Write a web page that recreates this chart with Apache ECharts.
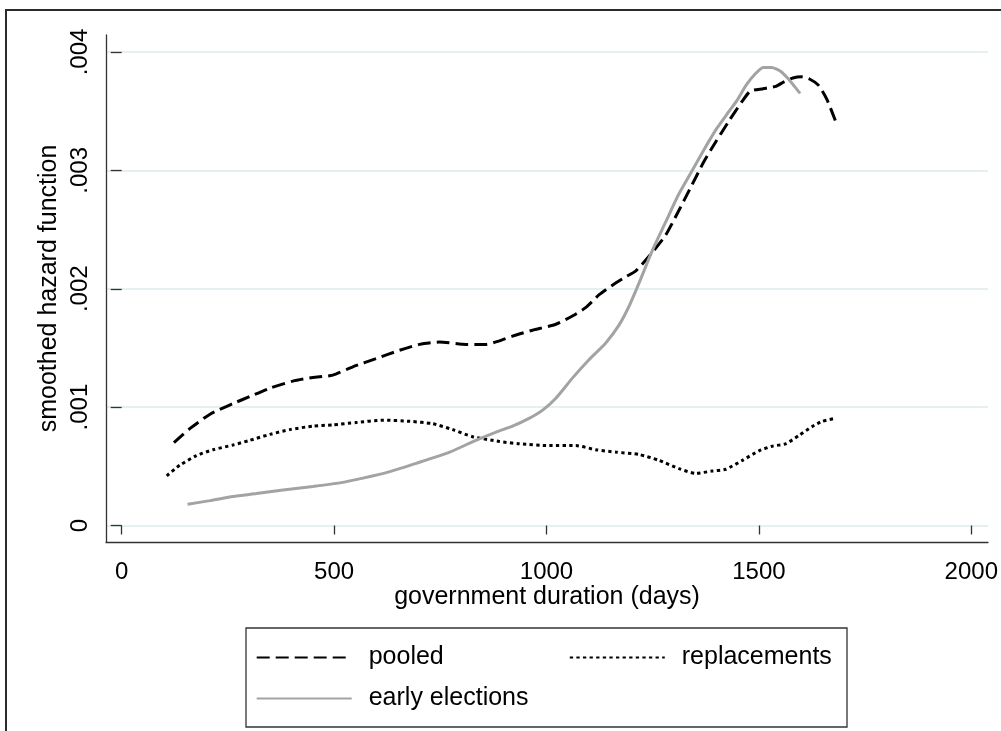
<!DOCTYPE html>
<html><head><meta charset="utf-8">
<script src="https://cdn.jsdelivr.net/npm/echarts@6/dist/echarts.min.js"></script>
<style>html,body{margin:0;padding:0;background:#fff}#c{width:1001px;height:731px}</style>
</head><body><div id="c"></div>
<script>
const xTicks = [0, 500, 1000, 1500, 2000];
const yTickLabels = ['0', '.001', '.002', '.003', '.004'];
const seriesNames = ['pooled', 'replacements', 'early elections'];

const pooledDays   = [123, 161, 208, 262, 302, 349, 403, 450, 497, 544, 599, 654, 701, 748, 811, 858, 889, 920, 967, 1022, 1061, 1092, 1124, 1155, 1186, 1210, 1245, 1280, 1310, 1340, 1370, 1400, 1430, 1460, 1480, 1510, 1540, 1560, 1580, 1600, 1620, 1640, 1660, 1680];
const pooledHazard = [0.00070, 0.00082, 0.00094, 0.00103, 0.00109, 0.00116, 0.00122, 0.00125, 0.00127, 0.00134, 0.00141, 0.00148, 0.00153, 0.00155, 0.00153, 0.00153, 0.00156, 0.00160, 0.00165, 0.00170, 0.00177, 0.00184, 0.00195, 0.00203, 0.00210, 0.00215, 0.00229, 0.00245, 0.00265, 0.00286, 0.00307, 0.00325, 0.00342, 0.00358, 0.00367, 0.00369, 0.00371, 0.00375, 0.00378, 0.00379, 0.00377, 0.00372, 0.00360, 0.00342];

const replDays   = [106, 137, 176, 215, 262, 302, 349, 396, 450, 497, 552, 615, 678, 732, 779, 826, 889, 936, 1006, 1069, 1116, 1163, 1218, 1265, 1312, 1351, 1390, 1422, 1461, 1500, 1531, 1563, 1594, 1625, 1649, 1680];
const replHazard = [0.00042, 0.00051, 0.00059, 0.00064, 0.00068, 0.00072, 0.00077, 0.00081, 0.00084, 0.00085, 0.00087, 0.00089, 0.00088, 0.00086, 0.00081, 0.00075, 0.00071, 0.00069, 0.000675, 0.000675, 0.00064, 0.00062, 0.00060, 0.00055, 0.00048, 0.00044, 0.00046, 0.000475, 0.00055, 0.00063, 0.00067, 0.00069, 0.00076, 0.000835, 0.00088, 0.000905];

const earlyDays   = [155, 208, 262, 317, 380, 450, 513, 568, 631, 693, 772, 834, 889, 920, 959, 991, 1022, 1061, 1100, 1139, 1171, 1194, 1218, 1250, 1280, 1310, 1340, 1370, 1400, 1430, 1450, 1470, 1490, 1510, 1530, 1550, 1570, 1597];
const earlyHazard = [0.00018, 0.00021, 0.000245, 0.00027, 0.00030, 0.00033, 0.00036, 0.00040, 0.000455, 0.000525, 0.00062, 0.00072, 0.00080, 0.00084, 0.000905, 0.000975, 0.001075, 0.001245, 0.00140, 0.00154, 0.001695, 0.00185, 0.00205, 0.00233, 0.00256, 0.00279, 0.00298, 0.00317, 0.00335, 0.00350, 0.00360, 0.00372, 0.00381, 0.00387, 0.00387, 0.00384, 0.00377, 0.00365];

const zip = (a, b) => a.map((d, i) => [d, b[i]]);
const FONT = "'Liberation Sans', Arial, sans-serif";
const chart = echarts.init(document.getElementById('c'), null, { renderer: 'canvas' });

const legendCommon = {
  padding: 0, itemWidth: 95, itemHeight: 14,
  itemStyle: { opacity: 0, borderWidth: 0 },
  textStyle: { fontSize: 25, color: '#000', fontFamily: FONT, padding: [0, 0, 0, 12] }
};

chart.setOption({
  backgroundColor: '#ffffff',
  animation: false,
  textStyle: { fontFamily: FONT },
  grid: [
    { left: 121.7, right: 29.3, top: 52, bottom: 205.5 },
    { left: 106, right: 13, top: 52, bottom: 205.5 },
    { left: 106, right: 13, top: 35, bottom: 189 }
  ],
  xAxis: [
    {
      gridIndex: 0, type: 'value', min: xTicks[0], max: xTicks[xTicks.length - 1], interval: 500,
      offset: 16.5,
      axisLine: { show: false },
      axisTick: { show: true, length: 9, lineStyle: { color: '#333', width: 1.3 } },
      axisLabel: { fontSize: 24, color: '#000', margin: 18, fontFamily: FONT, formatter: v => String(v) },
      splitLine: { show: false }
    },
    { gridIndex: 1, type: 'value', min: 0, max: 1, show: false },
    {
      gridIndex: 2, type: 'value', min: 0, max: 1,
      axisLine: { show: true, onZero: false, lineStyle: { color: '#333', width: 1.3 } },
      axisTick: { show: false }, axisLabel: { show: false }, splitLine: { show: false },
      name: 'government duration (days)', nameLocation: 'middle', nameGap: 43,
      nameTextStyle: { fontSize: 25, color: '#000', fontFamily: FONT }
    }
  ],
  yAxis: [
    {
      gridIndex: 0, type: 'value', min: 0, max: 0.004, interval: 0.001,
      offset: 15.7,
      axisLine: { show: false },
      axisTick: { show: true, length: 11, lineStyle: { color: '#333', width: 1.3 } },
      axisLabel: {
        fontSize: 24, color: '#000', margin: 14, rotate: 90, fontFamily: FONT,
        formatter: v => yTickLabels[Math.round(v / 0.001)]
      },
      splitLine: { show: false }
    },
    {
      gridIndex: 1, type: 'value', min: 0, max: 0.004, interval: 0.001,
      axisLine: { show: false }, axisTick: { show: false }, axisLabel: { show: false },
      splitLine: { show: true, lineStyle: { color: '#e6eff1', width: 2 } }
    },
    {
      gridIndex: 2, type: 'value', min: 0, max: 1,
      axisLine: { show: true, onZero: false, lineStyle: { color: '#333', width: 1.3 } },
      axisTick: { show: false }, axisLabel: { show: false }, splitLine: { show: false },
      name: 'smoothed hazard function', nameLocation: 'middle', nameGap: 44, nameRotate: 90,
      nameTextStyle: { fontSize: 25, color: '#000', fontFamily: FONT }
    }
  ],
  legend: [
    Object.assign({ data: [seriesNames[0], seriesNames[1]], left: 255.7, top: 645, itemGap: 125 }, legendCommon),
    Object.assign({ data: [seriesNames[2]], left: 255.7, top: 686 }, legendCommon)
  ],
  graphic: [
    { type: 'rect', shape: { x: 6, y: 10, width: 1100, height: 800 }, style: { fill: 'none', stroke: '#2b2b2b', lineWidth: 2 }, silent: true },
    { type: 'rect', shape: { x: 246, y: 628, width: 601, height: 99 }, style: { fill: 'none', stroke: '#333', lineWidth: 1.3 }, silent: true }
  ],
  series: [
    {
      name: seriesNames[0], type: 'line', xAxisIndex: 0, yAxisIndex: 0,
      data: zip(pooledDays, pooledHazard), showSymbol: false, symbol: 'none', symbolSize: 0, smooth: 0.2,
      lineStyle: { color: '#000', width: 3, type: [13, 6] }, itemStyle: { color: '#000' }
    },
    {
      name: seriesNames[1], type: 'line', xAxisIndex: 0, yAxisIndex: 0,
      data: zip(replDays, replHazard), showSymbol: false, symbol: 'none', symbolSize: 0, smooth: 0.2,
      lineStyle: { color: '#000', width: 3, type: [3.3, 3.3] }, itemStyle: { color: '#000' }
    },
    {
      name: seriesNames[2], type: 'line', xAxisIndex: 0, yAxisIndex: 0,
      data: zip(earlyDays, earlyHazard), showSymbol: false, symbol: 'none', symbolSize: 0, smooth: 0.2,
      lineStyle: { color: '#a3a3a3', width: 3 }, itemStyle: { color: '#a3a3a3' }
    }
  ]
});
</script>
</body></html>
